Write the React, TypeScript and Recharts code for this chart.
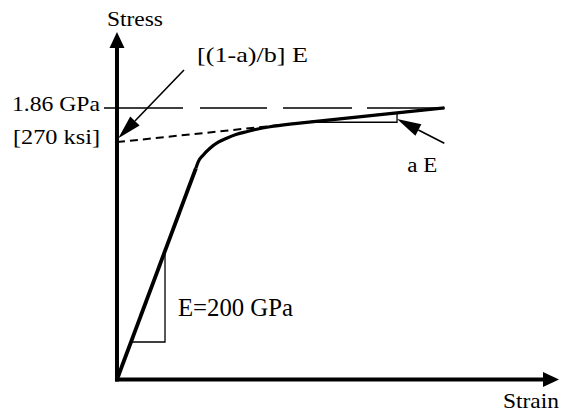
import React from 'react';
import { ComposedChart, Line, XAxis, YAxis, ReferenceLine, ReferenceDot } from 'recharts';

// Idealised stress-strain curve of a prestressing strand (strain in mm/mm, stress in GPa)
const ELASTIC_STRAIN = [0, 0.00723];
const ELASTIC_STRESS = [0, 1.447];

const KNEE_STRAIN = [0.00723, 0.00745, 0.00791, 0.00852, 0.00928, 0.01005, 0.01097, 0.01188, 0.0128, 0.01402, 0.01585];
const KNEE_STRESS = [1.447, 1.492, 1.538, 1.584, 1.625, 1.652, 1.679, 1.697, 1.714, 1.731, 1.749];

const HARDENING_STRAIN = [0.01585, 0.03];
const HARDENING_STRESS = [1.749, 1.86];

// Dashed tangent of the hardening branch back to the stress axis
const TANGENT_STRAIN = [0, 0.03];
const TANGENT_STRESS = [1.626, 1.86];

// Ultimate strength 1.86 GPa [270 ksi]
const FPU_GPA = 1.86;
const FPU_LABELS = ['1.86 GPa', '[270 ksi]'];

// Slope triangles
const E_TRI_STRAIN = [0.00128, 0.0044, 0.0044];
const E_TRI_STRESS = [0.257, 0.257, 0.88];
const AE_TRI_STRAIN = [0.01744, 0.02566, 0.02566];
const AE_TRI_STRESS = [1.762, 1.762, 1.826];

// Leader arrows: [tail, tip]
const INTERCEPT_ARROW = [{ x: 0.00614, y: 2.12 }, { x: 0.00012, y: 1.652 }];
const AE_ARROW = [{ x: 0.02999, y: 1.618 }, { x: 0.02566, y: 1.784 }];

const X_MIN = -0.00119;
const X_MAX = 0.0405;
const Y_MAX = 2.38;

const FONT = '"Liberation Serif", "Times New Roman", serif';

type Pt = { strain: number; stress: number };
const zip = (xs: number[], ys: number[]): Pt[] => xs.map((x, i) => ({ strain: x, stress: ys[i] }));

const elastic = zip(ELASTIC_STRAIN, ELASTIC_STRESS);
const knee = zip(KNEE_STRAIN, KNEE_STRESS);
const hardening = zip(HARDENING_STRAIN, HARDENING_STRESS);
const tangent = zip(TANGENT_STRAIN, TANGENT_STRESS);
const fpuLine = zip([X_MIN, HARDENING_STRAIN[1]], [FPU_GPA, FPU_GPA]);
const eTriangle = zip(E_TRI_STRAIN, E_TRI_STRESS);
const aeTriangle = zip(AE_TRI_STRAIN, AE_TRI_STRESS);

function headPoints(x1: number, y1: number, x2: number, y2: number, len: number, half: number) {
  const d = Math.hypot(x2 - x1, y2 - y1) || 1;
  const ux = (x2 - x1) / d;
  const uy = (y2 - y1) / d;
  const bx = x2 - ux * len;
  const by = y2 - uy * len;
  return {
    bx,
    by,
    points: `${x2},${y2} ${bx - uy * half},${by + ux * half} ${bx + uy * half},${by - ux * half}`,
  };
}

function AxisArrow(props: any) {
  const { x1, y1, x2, y2 } = props;
  const h = headPoints(x1, y1, x2, y2, 16, 7.5);
  return (
    <g>
      <line x1={x1} y1={y1} x2={h.bx} y2={h.by} stroke="#000" strokeWidth={4} strokeLinecap="square" />
      <polygon points={h.points} fill="#000" />
    </g>
  );
}

type Caption = { text: string; dx: number; dy: number; size: number; width: number; anchor: 'start' | 'middle' | 'end' };

function Txt({ x, y, c }: { x: number; y: number; c: Caption }) {
  return (
    <text
      x={x + c.dx}
      y={y + c.dy}
      style={{ fontFamily: FONT, fontSize: c.size }}
      fill="#000"
      textAnchor={c.anchor}
      textLength={c.width}
      lengthAdjust="spacingAndGlyphs"
    >
      {c.text}
    </text>
  );
}

function makePointer(c: Caption) {
  return (props: any) => {
    const { x1, y1, x2, y2 } = props;
    const h = headPoints(x1, y1, x2, y2, 24, 6.5);
    return (
      <g>
        <line x1={x1} y1={y1} x2={h.bx} y2={h.by} stroke="#000" strokeWidth={1.6} />
        <polygon points={h.points} fill="#000" />
        <Txt x={x1} y={y1} c={c} />
      </g>
    );
  };
}

function makeCaption(c: Caption) {
  return (props: any) => <Txt x={props.cx} y={props.cy} c={c} />;
}

function FpuTick(props: any) {
  const { x, y } = props;
  return (
    <g>
      <Txt x={x} y={y} c={{ text: FPU_LABELS[0], dx: 0, dy: 3, size: 21, width: 88, anchor: 'end' }} />
      <Txt x={x} y={y} c={{ text: FPU_LABELS[1], dx: 0, dy: 36.5, size: 21, width: 87, anchor: 'end' }} />
    </g>
  );
}

const common = { stroke: '#000', dot: false, activeDot: false, isAnimationActive: false, dataKey: 'stress' } as const;

export default function App() {
  return (
    <div style={{ position: 'absolute', left: 0, top: 0, background: '#fff' }}>
      <ComposedChart width={563} height={413} margin={{ top: 32, right: 4, bottom: 33.5, left: 0 }}>
        <XAxis dataKey="strain" type="number" domain={[X_MIN, X_MAX]} hide />
        <YAxis
          type="number"
          domain={[0, Y_MAX]}
          width={104}
          ticks={[FPU_GPA]}
          axisLine={false}
          tickLine={false}
          tickSize={0}
          tickMargin={4}
          tick={<FpuTick />}
        />
        <Line {...common} data={fpuLine} type="linear" strokeWidth={1.5} strokeDasharray="79 17 67 16 69 15 80" />
        <Line {...common} data={tangent} type="linear" strokeWidth={2} strokeDasharray="8 5" />
        <Line {...common} data={eTriangle} type="linear" strokeWidth={1.3} />
        <Line {...common} data={aeTriangle} type="linear" strokeWidth={1.3} />
        <Line {...common} data={elastic} type="linear" strokeWidth={3.8} />
        <Line {...common} data={knee} type="monotone" strokeWidth={3.2} />
        <Line {...common} data={hardening} type="linear" strokeWidth={3.2} />

        <ReferenceLine segment={[{ x: 0, y: 0 }, { x: 0, y: Y_MAX }]} ifOverflow="visible" shape={AxisArrow} />
        <ReferenceLine segment={[{ x: 0, y: 0 }, { x: X_MAX, y: 0 }]} ifOverflow="visible" shape={AxisArrow} />

        <ReferenceLine
          segment={INTERCEPT_ARROW}
          ifOverflow="visible"
          shape={makePointer({ text: '[(1-a)/b] E', dx: 13, dy: -8, size: 22, width: 111, anchor: 'start' })}
        />
        <ReferenceLine
          segment={AE_ARROW}
          ifOverflow="visible"
          shape={makePointer({ text: 'a E', dx: -37, dy: 29, size: 20, width: 30, anchor: 'start' })}
        />

        <ReferenceDot
          x={0}
          y={Y_MAX}
          r={1}
          ifOverflow="visible"
          shape={makeCaption({ text: 'Stress', dx: -10, dy: -6, size: 20, width: 56, anchor: 'start' })}
        />
        <ReferenceDot
          x={X_MAX}
          y={0}
          r={1}
          ifOverflow="visible"
          shape={makeCaption({ text: 'Strain', dx: 0, dy: 28.5, size: 22, width: 56, anchor: 'end' })}
        />
        <ReferenceDot
          x={E_TRI_STRAIN[1]}
          y={E_TRI_STRESS[1]}
          r={1}
          ifOverflow="visible"
          shape={makeCaption({ text: 'E=200 GPa', dx: 13, dy: -26, size: 25, width: 115, anchor: 'start' })}
        />
      </ComposedChart>
    </div>
  );
}
